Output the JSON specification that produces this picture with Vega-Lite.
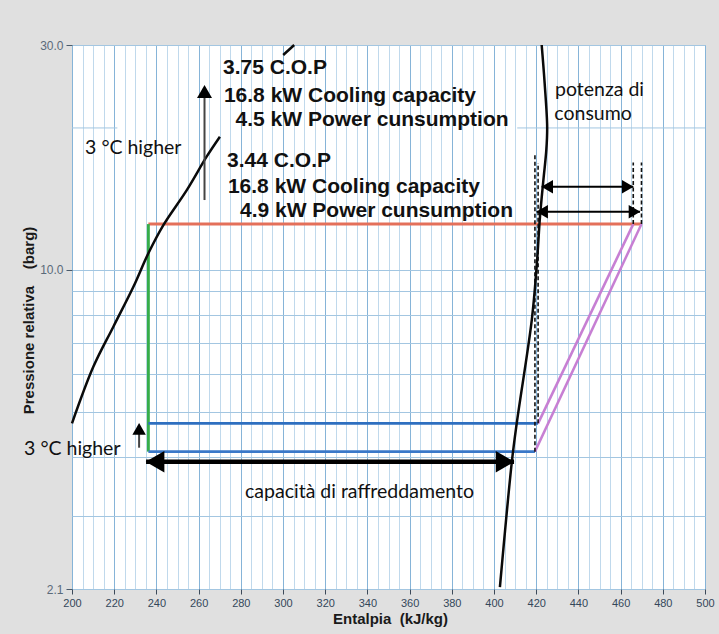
{
  "$schema": "https://vega.github.io/schema/vega-lite/v6.json",
  "width": 633,
  "height": 544,
  "autosize": {"type": "none"},
  "padding": {"left": 72, "top": 45, "right": 14, "bottom": 45},
  "background": "#e0e0e0",
  "config": {
    "view": {"fill": "white", "stroke": "#8fb6d6", "strokeWidth": 1}
  },
  "datasets": {
    "curves": [
      {"curve": "liqA", "i": 0, "h": 200, "p": 4.72},
      {"curve": "liqA", "i": 1, "h": 210.1, "p": 6.22},
      {"curve": "liqA", "i": 2, "h": 219.6, "p": 7.57},
      {"curve": "liqA", "i": 3, "h": 229.1, "p": 9.2},
      {"curve": "liqA", "i": 4, "h": 236.2, "p": 10.84},
      {"curve": "liqA", "i": 5, "h": 243.3, "p": 12.44},
      {"curve": "liqA", "i": 6, "h": 254.4, "p": 14.76},
      {"curve": "liqA", "i": 7, "h": 263.8, "p": 17.38},
      {"curve": "liqA", "i": 8, "h": 270.1, "p": 19.16},
      {"curve": "liqB", "i": 0, "h": 300.1, "p": 28.57},
      {"curve": "liqB", "i": 1, "h": 305.3, "p": 30},
      {"curve": "vap", "i": 0, "h": 422.6, "p": 30},
      {"curve": "vap", "i": 1, "h": 424.0, "p": 24.9},
      {"curve": "vap", "i": 2, "h": 425.2, "p": 20.1},
      {"curve": "vap", "i": 3, "h": 424.8, "p": 17.96},
      {"curve": "vap", "i": 4, "h": 423.4, "p": 15.5},
      {"curve": "vap", "i": 5, "h": 421.8, "p": 12.96},
      {"curve": "vap", "i": 6, "h": 420.2, "p": 10.13},
      {"curve": "vap", "i": 7, "h": 417.9, "p": 7.82},
      {"curve": "vap", "i": 8, "h": 410.8, "p": 4.73},
      {"curve": "vap", "i": 9, "h": 408.4, "p": 3.89},
      {"curve": "vap", "i": 10, "h": 402.8, "p": 2.12}
    ],
    "cycle": [
      {"seg": "cond", "i": 0, "h": 236.2, "p": 12.5},
      {"seg": "cond", "i": 1, "h": 470.1, "p": 12.5},
      {"seg": "exp", "i": 0, "h": 236.2, "p": 12.5},
      {"seg": "exp", "i": 1, "h": 236.2, "p": 4.11},
      {"seg": "evapHi", "i": 0, "h": 236.2, "p": 4.72},
      {"seg": "evapHi", "i": 1, "h": 420.9, "p": 4.72},
      {"seg": "evapLo", "i": 0, "h": 236.2, "p": 4.11},
      {"seg": "evapLo", "i": 1, "h": 419.4, "p": 4.11},
      {"seg": "compHi", "i": 0, "h": 420.9, "p": 4.72},
      {"seg": "compHi", "i": 1, "h": 466.0, "p": 12.5},
      {"seg": "compLo", "i": 0, "h": 419.4, "p": 4.11},
      {"seg": "compLo", "i": 1, "h": 469.9, "p": 12.5}
    ],
    "gridgaps": [
      {"h": 200, "h2": 221.5, "p": 20},
      {"h": 411, "h2": 500, "p": 20}
    ],
    "dashes": [
      {"h": 419.4, "p": 4.11, "p2": 17.7},
      {"h": 420.9, "p": 4.72, "p2": 16.85},
      {"h": 466.0, "p": 12.5, "p2": 16.9},
      {"h": 469.9, "p": 12.5, "p2": 16.9}
    ],
    "harrows": [
      {"id": "a1", "h": 422.6, "h2": 466.0, "p": 15.0},
      {"id": "a2", "h": 420.2, "h2": 469.2, "p": 13.28}
    ],
    "bigarrow": [
      {"h": 235.1, "h2": 409.5, "p": 3.91}
    ],
    "stems": [
      {"id": "s1", "h": 231.8, "p": 4.19, "p2": 4.6},
      {"id": "s2", "h": 262.8, "p": 14.06, "p2": 23.5}
    ],
    "heads": [
      {"kind": "s", "dir": "L", "h": 422.6, "p": 15.0},
      {"kind": "s", "dir": "L", "h": 420.2, "p": 13.28},
      {"kind": "s", "dir": "R", "h": 466.0, "p": 15.0},
      {"kind": "s", "dir": "R", "h": 469.2, "p": 13.28},
      {"kind": "b", "dir": "L", "h": 235.1, "p": 3.91},
      {"kind": "b", "dir": "R", "h": 409.5, "p": 3.91},
      {"kind": "s", "dir": "U", "h": 231.8, "p": 4.72},
      {"kind": "b", "dir": "U", "h": 262.8, "p": 24.67}
    ],
    "boldtext": [
      {"h": 271.6, "p": 26.05, "text": "3.75 C.O.P"},
      {"h": 272.0, "p": 22.75, "text": "16.8 kW Cooling capacity"},
      {"h": 277.5, "p": 20.2, "text": "4.5 kW Power cunsumption"},
      {"h": 273.5, "p": 16.5, "text": "3.44 C.O.P"},
      {"h": 273.9, "p": 14.57, "text": "16.8 kW Cooling capacity"},
      {"h": 279.6, "p": 12.96, "text": "4.9 kW Power cunsumption"}
    ],
    "notes": [
      {"h": 206.2, "p": 17.58, "text": "3 °C higher"},
      {"h": 177.3, "p": 4.04, "text": "3 °C higher"},
      {"h": 428.9, "p": 23.38, "text": "potenza di"},
      {"h": 428.6, "p": 20.79, "text": "consumo"},
      {"h": 282.0, "p": 3.28, "text": "capacità di raffreddamento"}
    ]
  },
  "encoding": {
    "x": {
      "field": "h",
      "type": "quantitative",
      "scale": {"domain": [200, 500], "nice": false, "zero": false},
      "axis": {
        "title": "Entalpia\u00a0\u00a0(kJ/kg)",
        "values": [200,205,210,215,220,225,230,235,240,245,250,255,260,265,270,275,280,285,290,295,300,305,310,315,320,325,330,335,340,345,350,355,360,365,370,375,380,385,390,395,400,405,410,415,420,425,430,435,440,445,450,455,460,465,470,475,480,485,490,495,500],
        "labelExpr": "datum.value % 20 === 0 ? datum.label : ''",
        "labelOverlap": false,
        "labelFlush": false,
        "labelBound": false,
        "grid": true,
        "gridColor": {"condition": {"test": "datum.value % 20 === 0", "value": "#86b4d8"}, "value": "#c0d9ec"},
        "gridWidth": 1,
        "tickColor": {"condition": {"test": "datum.value % 20 === 0", "value": "#3c4a5a"}, "value": "rgba(0,0,0,0)"},
        "tickSize": 5,
        "labelPadding": 3,
        "labelFont": "Liberation Sans",
        "labelFontSize": 11,
        "labelColor": "#34475a",
        "domain": false,
        "titleFont": "Liberation Sans",
        "titleFontWeight": "bold",
        "titleFontSize": 15,
        "titleColor": "#1a1a1a",
        "titleX": 318,
        "titleY": 29,
        "titleAlign": "center",
        "titleBaseline": "middle"
      }
    },
    "y": {
      "field": "p",
      "type": "quantitative",
      "scale": {"type": "log", "domain": [2.1, 30], "nice": false},
      "axis": {
        "title": "Pressione relativa\u00a0\u00a0\u00a0\u00a0(barg)",
        "values": [2.1, 3, 4, 5, 6, 7, 8, 9, 10, 30],
        "labelExpr": "datum.value === 30 ? '30.0' : datum.value === 10 ? '10.0' : datum.value === 2.1 ? '2.1' : ''",
        "labelOverlap": false,
        "labelFlush": false,
        "labelBound": false,
        "grid": true,
        "gridColor": "#a3c6e1",
        "gridWidth": 1,
        "tickColor": {"condition": {"test": "datum.value === 30 || datum.value === 10 || datum.value === 2.1", "value": "#4a5a6a"}, "value": "rgba(0,0,0,0)"},
        "tickSize": 6,
        "labelPadding": 3,
        "labelFont": "Liberation Sans",
        "labelFontSize": 12,
        "labelColor": "#5a6a7a",
        "domain": false,
        "titleFont": "Liberation Sans",
        "titleFontWeight": "bold",
        "titleFontSize": 15,
        "titleColor": "#1a1a1a",
        "titleX": -44,
        "titleY": 275,
        "titleAngle": -90,
        "titleAlign": "center",
        "titleBaseline": "middle"
      }
    }
  },
  "layer": [
    {
      "data": {"name": "gridgaps"},
      "mark": {"type": "rule", "color": "#a3c6e1", "strokeWidth": 1},
      "encoding": {"x2": {"field": "h2"}}
    },
    {
      "data": {"name": "cycle"},
      "mark": {"type": "line"},
      "encoding": {
        "detail": {"field": "seg"},
        "order": {"field": "i", "type": "quantitative"},
        "color": {"field": "seg", "type": "nominal", "legend": null,
          "scale": {"domain": ["cond", "exp", "evapHi", "evapLo", "compHi", "compLo"],
                    "range": ["#e4705a", "#36ad4a", "#2e6fc0", "#3a78c8", "#c77fd3", "#c77fd3"]}},
        "strokeWidth": {"field": "seg", "type": "ordinal", "legend": null,
          "scale": {"domain": ["cond", "exp", "evapHi", "evapLo", "compHi", "compLo"],
                    "range": [3, 2.5, 4, 2.5, 3.5, 3.5]}}
      }
    },
    {
      "data": {"name": "dashes"},
      "mark": {"type": "rule", "color": "#111", "strokeWidth": 1.6, "strokeDash": [4, 2.5]},
      "encoding": {"y2": {"field": "p2"}}
    },
    {
      "data": {"name": "curves"},
      "mark": {"type": "line", "interpolate": "catmull-rom", "color": "#0a0a0a", "strokeWidth": 2.5},
      "encoding": {
        "detail": {"field": "curve"},
        "order": {"field": "i", "type": "quantitative"}
      }
    },
    {
      "data": {"name": "harrows"},
      "mark": {"type": "rule", "color": "#000", "strokeWidth": 2},
      "encoding": {"x2": {"field": "h2"}}
    },
    {
      "data": {"name": "bigarrow"},
      "mark": {"type": "rule", "color": "#000", "strokeWidth": 4.5},
      "encoding": {"x2": {"field": "h2"}}
    },
    {
      "data": {"name": "stems"},
      "mark": {"type": "rule", "color": "#444", "strokeWidth": 2},
      "encoding": {"y2": {"field": "p2"}}
    },
    {
      "data": {"name": "heads"},
      "transform": [{"filter": "datum.kind === 's' && datum.dir === 'L'"}],
      "mark": {"type": "point", "shape": "triangle-left", "size": 180, "filled": true, "opacity": 1, "color": "#000", "xOffset": 5.5}
    },
    {
      "data": {"name": "heads"},
      "transform": [{"filter": "datum.kind === 's' && datum.dir === 'R'"}],
      "mark": {"type": "point", "shape": "triangle-right", "size": 180, "filled": true, "opacity": 1, "color": "#000", "xOffset": -5.5}
    },
    {
      "data": {"name": "heads"},
      "transform": [{"filter": "datum.kind === 'b' && datum.dir === 'L'"}],
      "mark": {"type": "point", "shape": "triangle-left", "size": 460, "filled": true, "opacity": 1, "color": "#000", "xOffset": 9}
    },
    {
      "data": {"name": "heads"},
      "transform": [{"filter": "datum.kind === 'b' && datum.dir === 'R'"}],
      "mark": {"type": "point", "shape": "triangle-right", "size": 460, "filled": true, "opacity": 1, "color": "#000", "xOffset": -9}
    },
    {
      "data": {"name": "heads"},
      "transform": [{"filter": "datum.kind === 's' && datum.dir === 'U'"}],
      "mark": {"type": "point", "shape": "triangle-up", "size": 180, "filled": true, "opacity": 1, "color": "#000", "yOffset": 5.5}
    },
    {
      "data": {"name": "heads"},
      "transform": [{"filter": "datum.kind === 'b' && datum.dir === 'U'"}],
      "mark": {"type": "point", "shape": "triangle-up", "size": 225, "filled": true, "opacity": 1, "color": "#000", "yOffset": 6.5}
    },
    {
      "data": {"name": "boldtext"},
      "mark": {"type": "text", "align": "left", "baseline": "alphabetic", "font": "Liberation Sans", "fontWeight": "bold", "fontSize": 21, "color": "#111"},
      "encoding": {"text": {"field": "text"}}
    },
    {
      "data": {"name": "notes"},
      "mark": {"type": "text", "align": "left", "baseline": "alphabetic", "font": "Lato", "fontSize": 19.5, "color": "#111"},
      "encoding": {"text": {"field": "text"}}
    }
  ]
}
